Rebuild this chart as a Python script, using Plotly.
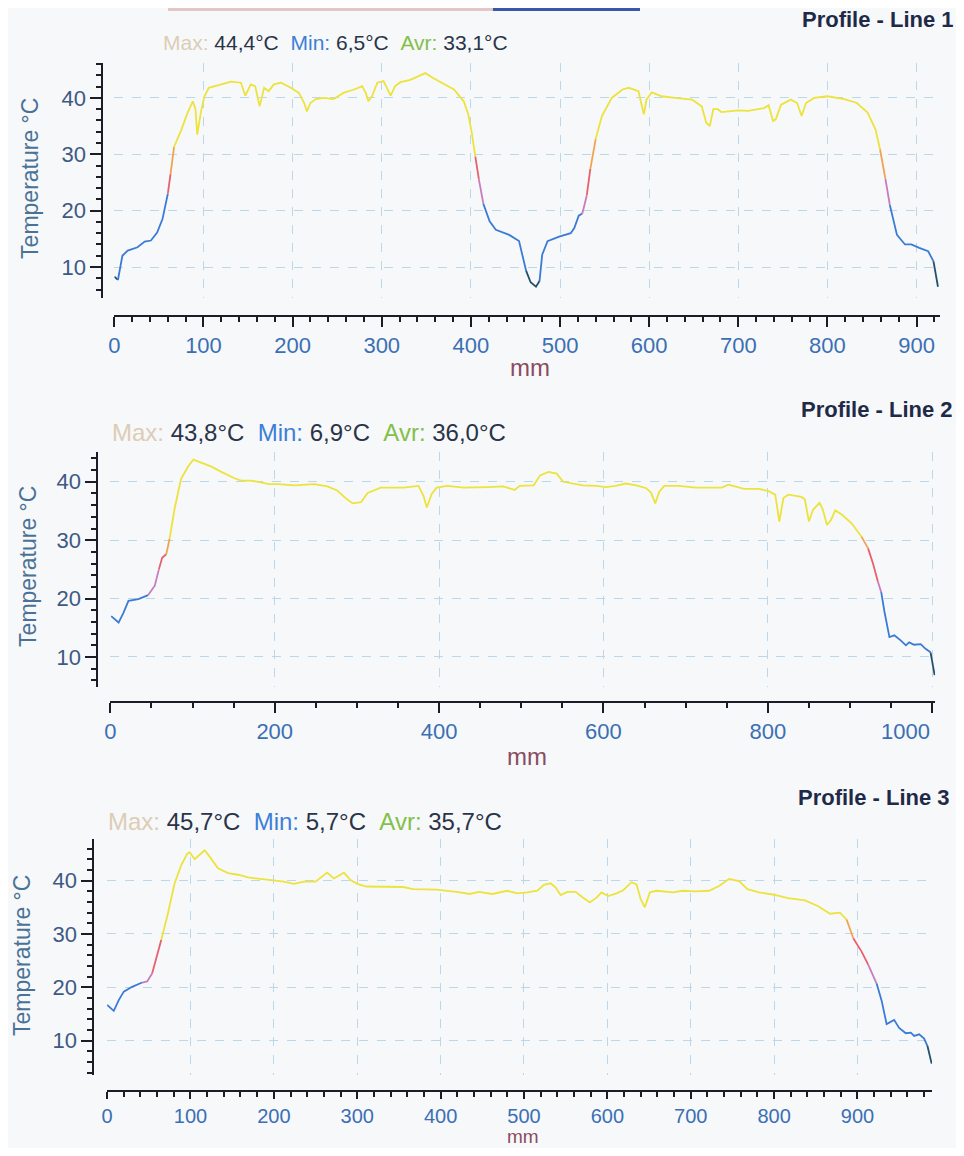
import plotly.graph_objects as go

# ---------------- data ----------------
x1 = [0, 4, 9, 15, 26, 34, 41, 48, 54, 60, 63, 67, 75, 82, 88, 91, 93, 97, 101, 106, 119, 131,
      142, 147, 153, 158, 163, 168, 173, 179, 187, 198, 207, 213, 216, 220, 226, 235, 246, 257,
      269, 278, 282, 285, 289, 295, 302, 306, 310, 315, 321, 332, 340, 349, 358, 369, 381, 392,
      397, 401, 405, 409, 414, 421, 428, 443, 454, 458, 462, 467, 473, 477, 480, 486, 499, 512,
      516, 521, 525, 530, 534, 540, 547, 558, 570, 577, 588, 594, 597, 603, 614, 629, 648, 659,
      664, 668, 672, 677, 681, 700, 711, 729, 734, 739, 742, 748, 759, 766, 771, 776, 785, 800,
      819, 833, 845, 854, 859, 865, 870, 878, 887, 894, 903, 913, 919, 924]
t1 = [8.3, 7.7, 12.0, 12.9, 13.5, 14.5, 14.7, 16.1, 18.5, 23.0, 26.5, 31.3, 34.3, 37.3, 39.4, 38.0,
      33.5, 37.4, 40.3, 41.8, 42.4, 42.9, 42.7, 40.4, 42.4, 42.1, 38.5, 41.8, 41.2, 42.4, 42.7,
      41.8, 40.9, 39.1, 37.6, 39.1, 39.8, 40.0, 39.8, 40.9, 41.5, 42.1, 40.9, 39.4, 40.3, 42.7,
      43.0, 41.8, 40.4, 42.1, 42.8, 43.2, 43.8, 44.4, 43.5, 42.6, 41.5, 39.4, 37.1, 33.8, 29.6,
      25.5, 21.2, 18.1, 16.6, 15.7, 14.6, 12.2, 9.3, 7.3, 6.5, 7.5, 12.2, 14.6, 15.4, 16.0, 16.9,
      19.1, 19.5, 22.7, 27.4, 32.7, 36.8, 40.0, 41.5, 41.8, 41.2, 37.1, 39.7, 41.0, 40.3, 40.0,
      39.7, 38.5, 35.6, 35.0, 38.0, 38.0, 37.5, 37.8, 37.7, 38.2, 38.7, 35.9, 36.2, 38.8, 39.7,
      39.1, 36.8, 39.1, 40.0, 40.3, 39.8, 39.1, 37.4, 34.4, 30.9, 25.7, 21.0, 15.7, 14.0, 14.0,
      13.4, 12.8, 11.0, 6.5]

x2 = [1, 10, 16, 22, 34, 46, 54, 59, 63, 68, 72, 78, 86, 95, 101, 111, 123, 135, 151, 159, 171,
      183, 193, 204, 224, 248, 264, 276, 288, 295, 305, 313, 329, 357, 375, 381, 385, 391, 397,
      410, 430, 460, 478, 492, 498, 515, 523, 533, 543, 551, 563, 575, 591, 603, 615, 627, 640,
      652, 658, 663, 668, 674, 692, 712, 744, 752, 760, 771, 789, 801, 809, 811, 814, 819, 825,
      841, 845, 850, 855, 863, 867, 872, 877, 882, 890, 902, 914, 922, 928, 934, 938, 942, 948,
      954, 962, 968, 972, 978, 986, 992, 998, 1003]
t2 = [17.0, 15.9, 17.6, 19.6, 19.9, 20.6, 22.2, 25.0, 27.0, 27.6, 30.2, 35.3, 40.5, 42.7, 43.8,
      43.2, 42.6, 41.7, 40.6, 40.2, 40.2, 39.9, 39.6, 39.6, 39.4, 39.6, 39.2, 38.5, 37.0, 36.3,
      36.5, 38.1, 39.0, 39.0, 39.3, 37.6, 35.6, 37.9, 39.0, 39.3, 39.0, 39.1, 39.2, 38.6, 39.3,
      39.4, 41.1, 41.7, 41.4, 40.0, 39.7, 39.4, 39.3, 39.1, 39.3, 39.7, 39.4, 38.9, 38.1, 36.3,
      38.3, 39.3, 39.3, 39.0, 39.0, 39.5, 39.2, 38.8, 38.8, 38.4, 37.8, 36.1, 33.2, 37.2, 37.8,
      37.4, 37.0, 33.2, 35.2, 36.4, 35.2, 32.6, 33.5, 35.1, 34.4, 32.9, 30.6, 28.6, 26.0, 22.9,
      21.1, 17.7, 13.4, 13.7, 12.8, 12.0, 12.5, 12.1, 12.2, 11.4, 10.8, 6.9]

x3 = [0, 8, 14, 20, 30, 42, 48, 54, 60, 65, 73, 81, 89, 96, 99, 105, 111, 117, 123, 133, 145,
      157, 169, 185, 200, 212, 224, 236, 250, 258, 264, 272, 278, 284, 292, 300, 311, 355, 367,
      395, 419, 435, 446, 462, 480, 492, 504, 516, 524, 532, 538, 544, 552, 562, 571, 579, 587,
      593, 601, 611, 619, 629, 635, 640, 645, 651, 659, 679, 690, 706, 722, 734, 746, 758, 768,
      782, 798, 817, 837, 853, 867, 879, 887, 895, 905, 913, 923, 929, 935, 938, 944, 950, 958,
      964, 968, 974, 980, 984, 989]
t3 = [16.7, 15.6, 17.6, 19.2, 20.1, 20.9, 21.1, 22.6, 25.8, 28.9, 33.9, 39.5, 42.9, 45.0, 45.3,
      44.0, 44.8, 45.7, 44.5, 42.3, 41.4, 41.1, 40.6, 40.3, 40.0, 39.8, 39.4, 39.8, 39.8, 40.8,
      41.5, 40.4, 40.9, 41.5, 40.1, 39.4, 38.9, 38.8, 38.4, 38.3, 37.9, 37.5, 37.9, 37.5, 38.1,
      37.6, 37.8, 38.1, 39.2, 39.5, 38.7, 37.3, 37.9, 37.9, 36.8, 35.9, 36.8, 37.8, 37.1, 37.6,
      38.2, 39.7, 39.3, 36.5, 35.0, 37.8, 38.1, 37.8, 38.1, 38.0, 38.1, 39.0, 40.3, 39.9, 38.4,
      37.8, 37.4, 36.7, 36.3, 35.2, 33.8, 34.0, 32.7, 29.2, 26.7, 24.2, 20.7, 17.5, 13.1, 13.4,
      13.9, 12.4, 11.4, 11.5, 10.9, 11.2, 10.4, 9.0, 5.7]

# x tick positions / labels per panel (last label of panel 2 is drawn right-aligned separately)
x1_tickvals = [0, 100, 200, 300, 400, 500, 600, 700, 800, 900]
x1_ticklabels = ["0", "100", "200", "300", "400", "500", "600", "700", "800", "900"]
x2_tickvals = [0, 200, 400, 600, 800, 1000]
x2_ticklabels = ["0", "200", "400", "600", "800", ""]
x2_last_label = "1000"
x3_tickvals = [0, 100, 200, 300, 400, 500, 600, 700, 800, 900]
x3_ticklabels = ["0", "100", "200", "300", "400", "500", "600", "700", "800", "900"]
y_tickvals = [10, 20, 30, 40]

titles = ["Profile - Line 1", "Profile - Line 2", "Profile - Line 3"]
stat_max = ["44,4", "43,8", "45,7"]
stat_min = ["6,5", "6,9", "5,7"]
stat_avr = ["33,1", "36,0", "35,7"]
y_title = "Temperature °C"
x_title = "mm"

# ---------------- helpers ----------------
# figure sized to fit inside the 964x1156 window with the 8px page margin
OFF = 8
W, H = 964 - 2 * OFF, 1156 - 2 * OFF


def fx(px):
    return (px - OFF) / W


def fy(py):
    return 1 - (py - OFF) / H


def temp_color(v):
    if v < 9:
        return "#24506c"
    if v < 21:
        return "#3b7bd6"
    if v < 24:
        return "#c67cc0"
    if v < 28:
        return "#e8606e"
    if v < 31:
        return "#f0a452"
    return "#ece33c"


FONT = "Liberation Sans, Arial, sans-serif"
AX = "#1c1c28"
XTICKC = "#3b6fb4"
YTICKC = "#3e5a84"
GRID = "#bcd6ea"
BG = "#f7f8fa"

panels = [
    dict(x=x1, t=t1, tv=x1_tickvals, tt=x1_ticklabels, xdom=(109, 940), xr=(0, 926.4),
         ydom=(63, 298), yr=(4.5, 46.2), ypos=97, xpos=316, mdtick=20, title_y=19, title_r=956,
         stats_l=156, stats_y=43, stats_sz=21, ytit=(24, 178), mm=(527, 367), mm_sz=24, tsz=22, tl=10),
    dict(x=x2, t=t2, tv=x2_tickvals, tt=x2_ticklabels, xdom=(105, 935), xr=(0, 1003.6),
         ydom=(452, 687), yr=(4.86, 45.1), ypos=92, xpos=702, mdtick=50, title_y=409, title_r=955,
         stats_l=105, stats_y=433, stats_sz=24, ytit=(22, 566), mm=(524, 756), mm_sz=24, tsz=22, tl=10),
    dict(x=x3, t=t3, tv=x3_tickvals, tt=x3_ticklabels, xdom=(101.7, 932), xr=(0, 989.6),
         ydom=(839, 1075), yr=(3.57, 47.8), ypos=88, xpos=1091, mdtick=20, title_y=797, title_r=952,
         stats_l=101, stats_y=821, stats_sz=24, ytit=(16, 955), mm=(520, None), mm_sz=19, tsz=20, tl=7),
]

fig = go.Figure()
layout = dict(
    width=W, height=H, margin=dict(l=0, r=0, t=0, b=0),
    paper_bgcolor=BG, plot_bgcolor=BG, showlegend=False,
    font=dict(family=FONT),
)
annotations = []
shapes = []

for i, p in enumerate(panels):
    k = "" if i == 0 else str(i + 1)
    xs, ts = p["x"], p["t"]
    # coloured segments grouped by temperature band
    seg_x, seg_y = [xs[0]], [ts[0]]
    cur = temp_color((ts[0] + ts[1]) / 2)
    for j in range(1, len(xs)):
        c = temp_color((ts[j - 1] + ts[j]) / 2)
        if c != cur:
            fig.add_trace(go.Scatter(x=seg_x, y=seg_y, mode="lines", xaxis="x" + k, yaxis="y" + k,
                                     line=dict(color=cur, width=1.8), hoverinfo="skip"))
            seg_x, seg_y = [xs[j - 1]], [ts[j - 1]]
            cur = c
        seg_x.append(xs[j])
        seg_y.append(ts[j])
    fig.add_trace(go.Scatter(x=seg_x, y=seg_y, mode="lines", xaxis="x" + k, yaxis="y" + k,
                             line=dict(color=cur, width=1.8), hoverinfo="skip"))

    layout["xaxis" + k] = dict(
        domain=[fx(p["xdom"][0]), fx(p["xdom"][1])], range=list(p["xr"]),
        anchor="free", position=fy(p["xpos"]),
        showline=True, linecolor=AX, linewidth=2,
        ticks="outside", ticklen=p["tl"], tickwidth=2, tickcolor=AX,
        tickmode="array", tickvals=p["tv"], ticktext=p["tt"],
        minor=dict(tickmode="linear", tick0=0, dtick=p["mdtick"], ticks="outside", ticklen=5,
                   tickwidth=1.5, tickcolor=AX, showgrid=False),
        showgrid=True, gridcolor=GRID, griddash="dash", gridwidth=1,
        zeroline=False, tickfont=dict(size=p["tsz"], color=XTICKC, family=FONT),
    )
    layout["yaxis" + k] = dict(
        domain=[fy(p["ydom"][1]), fy(p["ydom"][0])], range=list(p["yr"]),
        anchor="free", position=fx(p["ypos"]),
        showline=True, linecolor=AX, linewidth=2,
        ticks="outside", ticklen=11, tickwidth=2, tickcolor=AX,
        tickmode="array", tickvals=y_tickvals,
        minor=dict(tickmode="linear", tick0=0, dtick=2, ticks="outside", ticklen=5, tickwidth=1.5,
                   tickcolor=AX, showgrid=False),
        showgrid=True, gridcolor=GRID, griddash="dash", gridwidth=1,
        zeroline=False, tickfont=dict(size=22, color=YTICKC, family=FONT),
    )

    annotations.append(dict(
        text="<b>" + titles[i] + "</b>", xref="paper", yref="paper",
        x=fx(p["title_r"]), y=fy(p["title_y"]), xanchor="right", yanchor="middle",
        showarrow=False, font=dict(size=22, color="#1f2a48", family=FONT)))
    sp = "\u00a0\u00a0"
    stats = ("<span style='color:#dccdb6'>Max:</span> " + stat_max[i] + "°C" + sp +
             "<span style='color:#3d7fd8'>Min:</span> " + stat_min[i] + "°C" + sp +
             "<span style='color:#84bf4a'>Avr:</span> " + stat_avr[i] + "°C")
    annotations.append(dict(
        text=stats, xref="paper", yref="paper", x=fx(p["stats_l"]), y=fy(p["stats_y"]),
        xanchor="left", yanchor="middle", showarrow=False,
        font=dict(size=p["stats_sz"], color="#2a3448", family=FONT)))
    annotations.append(dict(
        text=y_title, xref="paper", yref="paper", x=fx(p["ytit"][0]), y=fy(p["ytit"][1]),
        xanchor="center", yanchor="middle", textangle=-90, showarrow=False,
        font=dict(size=23, color="#4a7296", family=FONT)))
    if p["mm"][1] is None:
        annotations.append(dict(
            text=x_title, xref="paper", yref="paper", x=fx(p["mm"][0]), y=0,
            xanchor="center", yanchor="bottom", showarrow=False, borderpad=0,
            font=dict(size=p["mm_sz"], color="#8a4c60", family=FONT)))
    else:
        annotations.append(dict(
            text=x_title, xref="paper", yref="paper", x=fx(p["mm"][0]), y=fy(p["mm"][1]),
            xanchor="center", yanchor="middle", showarrow=False,
            font=dict(size=p["mm_sz"], color="#8a4c60", family=FONT)))

# right-aligned last tick label of panel 2 (as in the original, it is pulled inside)
annotations.append(dict(
    text=x2_last_label, xref="x2", yref="paper", x=x2_tickvals[-1], y=fy(731),
    xanchor="right", yanchor="middle", showarrow=False,
    font=dict(size=22, color=XTICKC, family=FONT)))

# cropped colour bar remnant at the top edge
shapes.append(dict(type="rect", xref="paper", yref="paper", x0=fx(163), x1=fx(490),
                   y0=fy(OFF + 3), y1=1, line=dict(width=0), fillcolor="#e4c6c8"))
shapes.append(dict(type="rect", xref="paper", yref="paper", x0=fx(490), x1=fx(638),
                   y0=fy(OFF + 3), y1=1, line=dict(width=0), fillcolor="#3a58a8"))

layout["annotations"] = annotations
layout["shapes"] = shapes
fig.update_layout(**layout)
fig.write_html("out.html")
